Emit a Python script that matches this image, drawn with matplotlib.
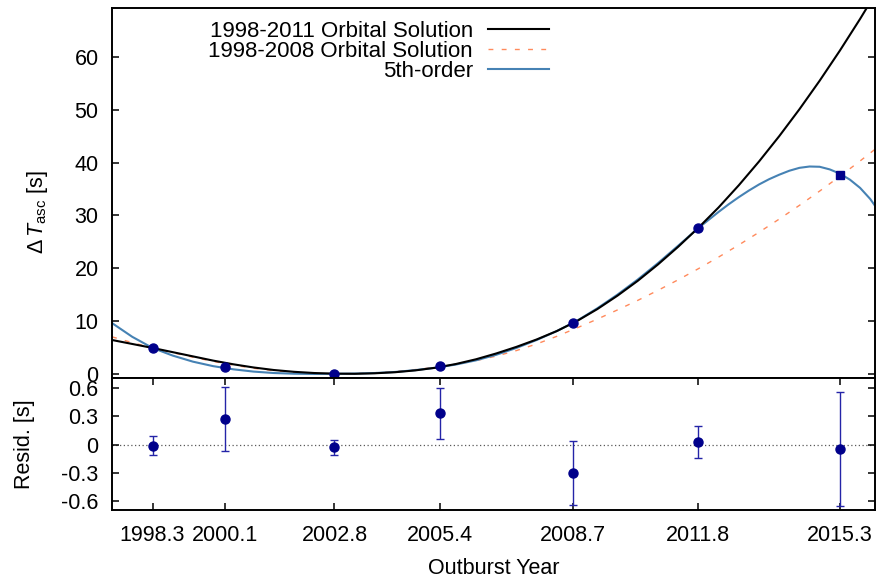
import numpy as np
import matplotlib
matplotlib.use('Agg')
import matplotlib.pyplot as plt

plt.rcParams['font.family'] = ['Liberation Sans', 'DejaVu Sans']
plt.rcParams['mathtext.fontset'] = 'custom'
plt.rcParams['mathtext.rm'] = 'Liberation Sans'
plt.rcParams['mathtext.it'] = 'Liberation Sans:italic'
plt.rcParams['axes.unicode_minus'] = False

# outbursts (decimal year), delta T_asc [s] and residuals [s]
outburst_year = [1998.3, 2000.1, 2002.8, 2005.4, 2008.7, 2011.8, 2015.3]
delta_t = [4.9, 1.35, 0.05, 1.5, 9.6, 27.65, 37.7]
resid = [-0.01, 0.27, -0.03, 0.33, -0.30, 0.025, -0.045]
resid_err = [0.10, 0.34, 0.077, 0.27, 0.34, 0.17, 0.60]
year_ticks = [1998.3, 2000.1, 2002.8, 2005.4, 2008.7, 2011.8, 2015.3]
year_labels = ['1998.3', '2000.1', '2002.8', '2005.4', '2008.7', '2011.8', '2015.3']
resid_ticks = [0.6, 0.3, 0, -0.3, -0.6]
resid_labels = ['0.6', '0.3', '0', '-0.3', '-0.6']

# model curves
model_year = [1997.3, 1997.8, 1998.3, 1998.8, 1999.3, 1999.8, 2000.3, 2000.8,
              2001.3, 2001.8, 2002.3, 2002.8, 2003.3, 2003.8, 2004.3, 2004.8,
              2005.3, 2005.8, 2006.3, 2006.8, 2007.3, 2007.8, 2008.3, 2008.8,
              2009.3, 2009.8, 2010.3, 2010.8, 2011.3, 2011.8, 2012.3, 2012.8,
              2013.3, 2013.8, 2014.3, 2014.8, 2015.3, 2015.8, 2016.3]
sol_1998_2011 = [6.4, 5.65, 4.9, 4.1, 3.3, 2.5, 1.8, 1.2,
                 0.72, 0.38, 0.15, 0.03, 0.0, 0.1, 0.3, 0.65,
                 1.15, 1.85, 2.75, 3.85, 5.1, 6.5, 8.1, 10.0,
                 12.25, 14.8, 17.6, 20.7, 24.05, 27.65, 31.5, 35.7,
                 40.2, 45.0, 50.1, 55.5, 61.2, 67.2, 73.5]
sol_1998_2008 = [7.0, 5.9, 4.9, 4.0, 3.15, 2.35, 1.65, 1.05,
                 0.6, 0.27, 0.07, 0.0, 0.05, 0.2, 0.45, 0.8,
                 1.25, 1.8, 2.5, 3.35, 4.4, 5.65, 7.1, 8.7,
                 10.35, 12.1, 13.9, 15.8, 17.8, 19.9, 22.1, 24.4,
                 26.8, 29.3, 31.9, 34.6, 37.4, 40.3, 43.3]
poly_year = [1997.3, 1997.8, 1998.3, 1998.8, 1999.3, 1999.8, 2000.3, 2000.8,
             2001.3, 2001.8, 2002.3, 2002.8, 2003.3, 2003.8, 2004.3, 2004.8,
             2005.3, 2005.8, 2006.3, 2006.8, 2007.3, 2007.8, 2008.3, 2008.8,
             2009.3, 2009.8, 2010.3, 2010.8, 2011.3, 2011.8, 2012.3, 2012.55,
             2012.8, 2013.05, 2013.3, 2013.55, 2013.8, 2014.05, 2014.3, 2014.55,
             2014.8, 2015.05, 2015.3, 2015.55, 2015.8, 2016.05, 2016.3]
fifth_order = [9.6, 7.0, 4.9, 3.45, 2.3, 1.45, 0.85, 0.42,
               0.15, 0.02, -0.03, 0.0, 0.05, 0.15, 0.35, 0.7,
               1.15, 1.75, 2.55, 3.6, 4.9, 6.4, 8.1, 10.05,
               12.4, 15.0, 17.85, 20.95, 24.25, 27.6, 30.65, 32.1,
               33.45, 34.7, 35.85, 36.85, 37.7, 38.45, 39.0, 39.25,
               39.2, 38.7, 37.9, 36.75, 35.2, 33.1, 30.4]

fs = 15.5
fig = plt.figure(figsize=(8.76, 5.78), dpi=100)
ax = fig.add_axes([0.1284, 0.3455, 0.8710, 0.6401])
axr = fig.add_axes([0.1284, 0.11765, 0.8710, 0.22785], sharex=ax)

ax.plot(model_year, sol_1998_2011, color='black', lw=1.5, label='1998-2011 Orbital Solution', zorder=3)
ax.plot(model_year, sol_1998_2008, color='#ff8a5c', lw=1.0, dashes=(3.5, 6), label='1998-2008 Orbital Solution', zorder=2)
ax.plot(poly_year, fifth_order, color='#4682b4', lw=1.5, label='5th-order', zorder=2.5)
ax.plot(outburst_year[:-1], delta_t[:-1], 'o', color='#00008b', ms=6.5, zorder=4)
ax.plot(outburst_year[-1:], delta_t[-1:], 's', color='#00008b', ms=6, zorder=4)

ax.set_xlim(1997.31, 2016.18)
ax.set_ylim(-0.85, 69.2)
ax.set_yticks(np.arange(0, 61, 10))
ax.tick_params(axis='y', direction='in', length=5, width=1.1, left=True, right=True,
               labelsize=fs, pad=10)
ax.tick_params(axis='x', bottom=False, labelbottom=False)
ax.set_ylabel(r'$\Delta\,T_{\mathrm{asc}}$ [s]', fontsize=fs)
ax.yaxis.set_label_coords(-0.082, 0.449)

leg = ax.legend(loc='upper right', bbox_to_anchor=(0.5724, 0.965), frameon=False,
                markerfirst=False, fontsize=16, handlelength=2.75, handletextpad=0.68,
                labelspacing=-0.06, borderpad=0, borderaxespad=0)

axr.axhline(0, color='0.35', lw=0.9, ls=(0, (1, 2)), zorder=1)
axr.errorbar(outburst_year, resid, yerr=resid_err, fmt='o', color='#00008b', ms=6.5,
             ecolor='#2424a8', elinewidth=1.0, capsize=3, capthick=1.0, zorder=3)
axr.set_ylim(-0.69, 0.70)
axr.set_yticks(resid_ticks)
axr.set_yticklabels(resid_labels)
axr.set_xticks(year_ticks)
axr.set_xticklabels(year_labels)
axr.tick_params(axis='both', direction='in', length=5, width=1.1, labelsize=fs,
                left=True, right=True, top=True, bottom=True)
axr.tick_params(axis='y', pad=10)
axr.tick_params(axis='x', pad=10.5)
axr.set_ylabel('Resid. [s]', fontsize=fs)
axr.yaxis.set_label_coords(-0.101, 0.5)
axr.set_xlabel('Outburst Year', fontsize=fs, labelpad=9)

for a in (ax, axr):
    for s in a.spines.values():
        s.set_linewidth(1.4)

fig.savefig('out.png', dpi=100)
